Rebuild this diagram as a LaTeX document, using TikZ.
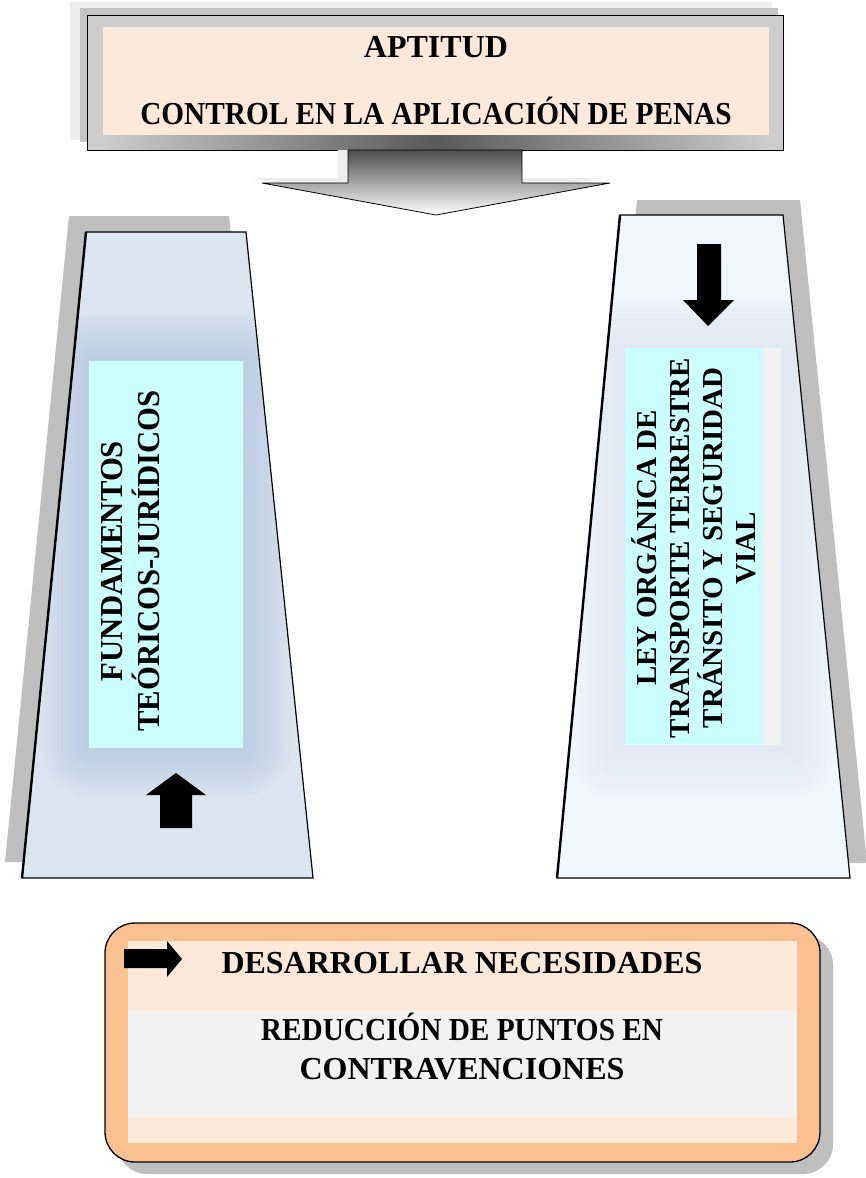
\documentclass[tikz,border=0pt]{standalone}
\usepackage{fontspec}
\setmainfont{Liberation Serif}
\newfontfamily\narrowfont{Liberation Serif}[FakeStretch=0.915]
\newfontfamily\leftfont{Liberation Serif}[FakeStretch=0.96]
\definecolor{peach}{RGB}{253,233,217}
\definecolor{orangefill}{RGB}{250,192,143}
\definecolor{bandgray}{RGB}{242,242,242}
\definecolor{trapblue}{RGB}{219,229,241}
\definecolor{glowblue}{RGB}{180,198,226}
\definecolor{trapwhite}{RGB}{241,245,252}
\definecolor{glowpale}{RGB}{222,230,244}
\definecolor{cyanbox}{RGB}{204,255,255}
\definecolor{shadowgray}{RGB}{191,191,191}
\definecolor{framegray}{RGB}{204,204,204}
\definecolor{paleshadow}{RGB}{238,238,238}
\definecolor{midshadow}{RGB}{196,196,196}
\tikzset{
  bigtext/.style={font=\fontsize{32}{38}\selectfont\bfseries, inner sep=0pt},
  narrowtext/.style={font=\narrowfont\fontsize{32}{38}\selectfont\bfseries, inner sep=0pt},
  lefttext/.style={font=\leftfont\fontsize{32}{37}\selectfont\bfseries, inner sep=0pt},
  righttext/.style={font=\fontsize{29}{33}\selectfont\bfseries, inner sep=0pt},
  blockarrow/.style={fill=black},
  trapborder/.style={draw=black, line width=1.2pt, line join=miter},
}
\begin{document}
\begin{tikzpicture}[x=1pt,y=-1pt]
\useasboundingbox (0,0) rectangle (865,1178);
\fill[white] (0,0) rectangle (865,1178);

% ---------- top box ----------
\fill[paleshadow] (70,2) rectangle (772,140);
\fill[midshadow] (80,8) rectangle (778,142);
\node[draw=black, line width=1.3pt, fill=framegray, minimum width=696, minimum height=135,
      anchor=north west, inner sep=0pt] (topframe) at (87,15) {};
\shade[left color=framegray, right color=black!65] (103,135) rectangle (436,149);
\shade[left color=black!65, right color=framegray] (436,135) rectangle (769,149);
\node[fill=peach, minimum width=666, minimum height=108, anchor=north west, inner sep=0pt] (toppeach) at (103,27) {};
\node[bigtext, anchor=base] (aptitud) at (436,57) {APTITUD};
\node[narrowtext, anchor=base] (control) at (436,124) {CONTROL EN LA APLICACIÓN DE PENAS};

% ---------- big down arrow ----------
\fill[paleshadow] (338,150) -- (512,150) -- (512,178) -- (600,178) -- (426,210) -- (252,178) -- (338,178) -- cycle;
\shade[top color=black!70, bottom color=white, draw=black, line width=0.8pt]
  (348,150) -- (522,150) -- (522,183) -- (610,183) -- (436,215) -- (262,183) -- (348,183) -- cycle;
\coordinate (bigtip) at (436,215);

% ---------- left trapezoid ----------
\fill[shadowgray] (69,216) -- (229,216) -- (296,862) -- (5,862) -- cycle;
\fill[trapblue] (86,232) -- (246,232) -- (313,878) -- (22,878) -- cycle;
\begin{scope}
  \clip (86,232) -- (246,232) -- (313,878) -- (22,878) -- cycle;
  \foreach \i in {1,...,12}{
    \fill[glowblue, opacity=0.08, rounded corners=\i*4pt]
      ({89-\i*4},{361-\i*4}) rectangle ({243+\i*4},{748+\i*4});
  }
\end{scope}
\draw[trapborder] (86,232) -- (246,232) -- (313,878) -- (22,878) -- cycle;
\draw[line width=2.4pt] (86,232) -- (22,878);
\node[fill=cyanbox, minimum width=154, minimum height=387, anchor=north west, inner sep=0pt] (fundbox) at (89,361) {};
\node[lefttext, rotate=90, align=center] (fundtext) at (131,561) {FUNDAMENTOS\\TEÓRICOS-JURÍDICOS};
\fill[blockarrow] (176,773) -- (206,795) -- (192,795) -- (192,828) -- (160,828) -- (160,795) -- (146,795) -- cycle;

% ---------- right trapezoid ----------
\fill[shadowgray] (637,200) -- (800,200) -- (867,863) -- (574,863) -- cycle;
\fill[trapwhite] (620,215) -- (783,215) -- (850,878) -- (557,878) -- cycle;
\begin{scope}
  \clip (620,215) -- (783,215) -- (850,878) -- (557,878) -- cycle;
  \foreach \i in {1,...,10}{
    \fill[glowpale, opacity=0.10, rounded corners=\i*3pt]
      ({625-\i*5},{348-\i*5}) rectangle ({781+\i*5},{745+\i*5});
  }
\end{scope}
\draw[trapborder] (620,215) -- (783,215) -- (850,878) -- (557,878) -- cycle;
\draw[line width=2.4pt] (620,215) -- (557,878);
\node[fill=bandgray, minimum width=18, minimum height=397, anchor=north west, inner sep=0pt] (leygray) at (763,348) {};
\node[fill=cyanbox, minimum width=138, minimum height=397, anchor=north west, inner sep=0pt] (leybox) at (625,348) {};
\node[righttext, rotate=90, align=center] (leytext) at (694,548)
  {LEY ORGÁNICA DE\\TRANSPORTE TERRESTRE\\TRÁNSITO Y SEGURIDAD\\VIAL};
\fill[blockarrow] (697,244) -- (721,244) -- (721,300) -- (734,300) -- (708,326) -- (683,300) -- (697,300) -- cycle;

% ---------- bottom box ----------
\fill[shadowgray, rounded corners=30pt] (117,935) rectangle (833,1174);
\draw[fill=orangefill, rounded corners=30pt, line width=1.3pt] (105,923) rectangle (820,1162);
\node[fill=peach, minimum width=669, minimum height=69, anchor=north west, inner sep=0pt] (bandtop) at (128,941) {};
\node[fill=bandgray, minimum width=669, minimum height=108, anchor=north west, inner sep=0pt] (bandmid) at (128,1010) {};
\node[fill=peach, minimum width=669, minimum height=25, anchor=north west, inner sep=0pt] (bandbot) at (128,1118) {};
\fill[blockarrow] (124,949) -- (167,949) -- (167,941) -- (182,959) -- (167,977) -- (167,968) -- (124,968) -- cycle;
\node[bigtext, anchor=base] (desarrollar) at (462,973) {DESARROLLAR NECESIDADES};
\node[narrowtext, anchor=base] (reduccion) at (462,1040) {REDUCCIÓN DE PUNTOS EN};
\node[bigtext, anchor=base] (contra) at (462,1079) {CONTRAVENCIONES};
\end{tikzpicture}
\end{document}
